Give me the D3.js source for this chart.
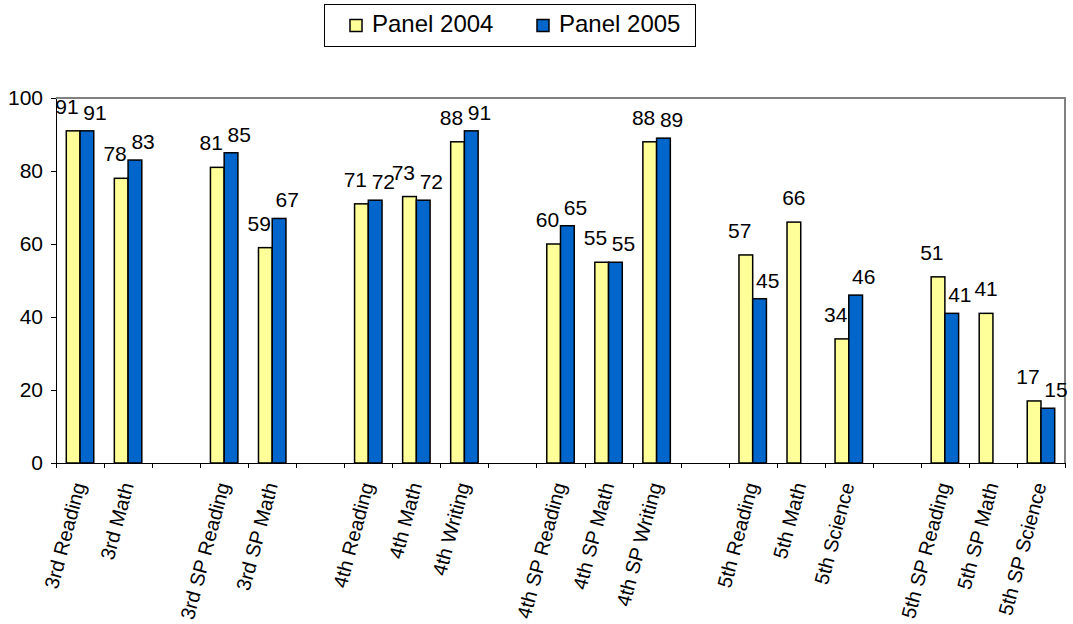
<!DOCTYPE html>
<html>
<head>
  <meta charset="utf-8">
  <title>Panel 2004 vs Panel 2005</title>
  <script src="https://d3js.org/d3.v7.min.js"></script>
  <style>
    body { margin: 0; background: #fff; }
    svg { display: block; font-family: Arial, "Liberation Sans", sans-serif; }
    .axis path, .axis line { stroke: #000; stroke-width: 1; shape-rendering: crispEdges; }
    .axis text { font-size: 21px; fill: #000; }
    .xlabel { font-size: 20px; fill: #000; }
    .value { font-size: 21px; fill: #000; }
    .legend text { font-size: 24px; fill: #000; }
  </style>
</head>
<body>
<div id="chart"></div>
<script>

const width = 1073;
const height = 624;

// null = empty slot between grade groups
const categories = ["3rd Reading", "3rd Math", null,
  "3rd SP Reading", "3rd SP Math", null,
  "4th Reading", "4th Math", "4th Writing", null,
  "4th SP Reading", "4th SP Math", "4th SP Writing", null,
  "5th Reading", "5th Math", "5th Science", null,
  "5th SP Reading", "5th SP Math", "5th SP Science"];

const panel2004 = [91, 78, null, 81, 59, null, 71, 73, 88, null, 60, 55, 88, null, 57, 66, 34, null, 51, 41, 17];
const panel2005 = [91, 83, null, 85, 67, null, 72, 72, 91, null, 65, 55, 89, null, 45, null, 46, null, 41, null, 15];

const seriesNames = ["Panel 2004", "Panel 2005"];
const seriesColors = ["#FFFF99", "#0066CC"];
const yTicks = [0, 20, 40, 60, 80, 100];

const margin = {top: 98, right: 8, bottom: 161, left: 56};
const plotW = width - margin.left - margin.right;
const plotH = height - margin.top - margin.bottom;

const svg = d3.select("#chart").append("svg")
    .attr("width", width)
    .attr("height", height);

const g = svg.append("g").attr("transform", `translate(${margin.left},${margin.top})`);

const idx = d3.range(categories.length);

const x = d3.scaleBand()
    .domain(idx)
    .range([0, plotW])
    .paddingInner(0)
    .paddingOuter(0);

const edges = d3.scaleLinear()
    .domain([0, categories.length])
    .range([0, plotW]);

// two bars take 2 of 3.5 bar widths (Excel gap width 150%)
const barW = x.bandwidth() / 3.5;
const x1 = d3.scaleBand()
    .domain(seriesNames)
    .range([(x.bandwidth() - 2 * barW) / 2, (x.bandwidth() + 2 * barW) / 2]);

const y = d3.scaleLinear()
    .domain([0, 100])
    .range([plotH, 0]);

// top and right frame of plot area
g.append("path")
    .attr("d", `M0,0H${plotW}V${plotH}`)
    .attr("fill", "none")
    .attr("stroke", "#808080")
    .attr("stroke-width", 2);

const series = [panel2004, panel2005];
// labels sit up-left of the yellow bar and up-right of the blue one
const labelShift = [-13, 15];
const labelRise = [17, 11];

series.forEach((vals, s) => {
  const bars = idx.filter(i => vals[i] != null);
  g.append("g")
    .selectAll("rect")
    .data(bars)
    .join("rect")
      .attr("x", i => x(i) + x1(seriesNames[s]))
      .attr("y", i => y(vals[i]))
      .attr("width", x1.bandwidth())
      .attr("height", i => plotH - y(vals[i]))
      .attr("fill", seriesColors[s])
      .attr("stroke", "#000")
      .attr("stroke-width", 1.5);

  g.append("g")
    .selectAll("text")
    .data(bars)
    .join("text")
      .attr("class", "value")
      .attr("x", i => {
        const alone = series.some((o, k) => k !== s && o[i] == null);
        return alone ? x(i) + x1(seriesNames[s]) + x1.bandwidth() / 2
                     : x(i) + x.bandwidth() / 2 + labelShift[s];
      })
      .attr("y", i => y(vals[i]) - labelRise[s])
      .attr("text-anchor", "middle")
      .text(i => vals[i]);
});

// y axis
g.append("g")
    .attr("class", "axis")
    .call(d3.axisLeft(y).tickValues(yTicks).tickSize(5).tickSizeOuter(0).tickPadding(8));

// x axis with ticks between categories
g.append("g")
    .attr("class", "axis")
    .attr("transform", `translate(0,${plotH})`)
    .call(d3.axisBottom(edges).tickValues(d3.range(categories.length + 1)).tickFormat("").tickSize(5).tickSizeOuter(0));

g.append("g")
  .selectAll("text")
  .data(idx.filter(i => categories[i] != null))
  .join("text")
    .attr("class", "xlabel")
    .attr("text-anchor", "end")
    .attr("transform", i => `translate(${x(i) + x.bandwidth() / 2 - 1},${plotH + 20}) rotate(-75)`)
    .attr("dy", "0.35em")
    .text(i => categories[i]);

// legend
const legend = svg.append("g").attr("class", "legend");
legend.append("rect")
    .attr("x", 324.5).attr("y", 4.5)
    .attr("width", 371).attr("height", 42)
    .attr("fill", "#fff").attr("stroke", "#000").attr("stroke-width", 1);

const legendX = [350, 537];
seriesNames.forEach((name, s) => {
  legend.append("rect")
      .attr("x", legendX[s]).attr("y", 19.5)
      .attr("width", 12).attr("height", 12)
      .attr("fill", seriesColors[s])
      .attr("stroke", "#000").attr("stroke-width", 1.5);
  legend.append("text")
      .attr("x", legendX[s] + 22).attr("y", 32)
      .text(name);
});

</script>
</body>
</html>
